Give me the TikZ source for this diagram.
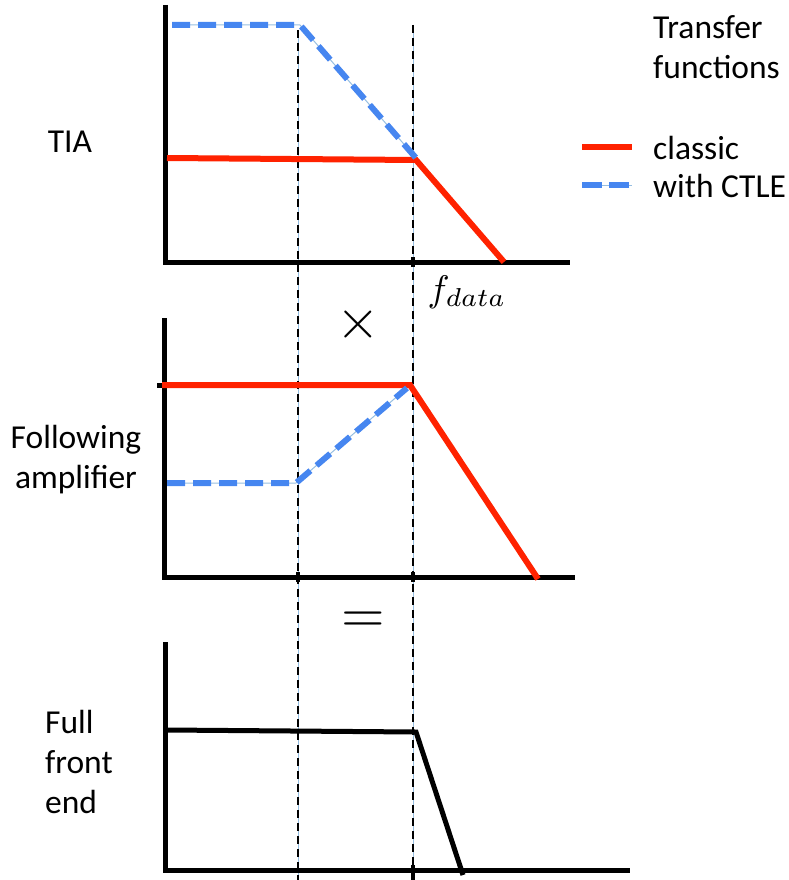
\documentclass[tikz,border=0pt]{standalone}
\usepackage{graphicx}
\usepackage[no-math]{fontspec}
\setmainfont{Carlito}
\definecolor{cred}{RGB}{255,34,0}
\definecolor{cblue}{RGB}{70,134,240}
\definecolor{clblue}{RGB}{150,190,225}
\begin{document}
\begin{tikzpicture}[x=1pt,y=-1pt,
  axis/.style={line width=5pt, line join=miter},
  redline/.style={cred, line width=6pt, line join=miter},
  blackline/.style={black, line width=5pt, line join=miter},
  bluebase/.style={clblue, line width=1pt},
  bluedash/.style={cblue, line width=6pt, dash pattern=on 18pt off 8pt},
  guidebase/.style={clblue, line width=1pt},
  guidedash/.style={black, line width=1.8pt, dash pattern=on 8pt off 5pt},
  tick/.style={black, line width=4pt},
  lab/.style={font=\fontsize{33.5}{40}\selectfont, inner sep=0pt},
  bigmath/.style={inner sep=0pt}
]
\useasboundingbox (0,0) rectangle (789,880);

% guide lines
\draw[guidebase] (298,30) -- (298,880);
\draw[guidedash] (298,30) -- (298,880);
\draw[guidebase] (413,25) -- (413,880);
\draw[guidedash] (413,25) -- (413,880);

% ---- top plot (TIA)
\draw[axis] (165,5) -- (165,262) -- (570,262);
\draw[tick] (413,257) -- (413,267);
\draw[redline] (167,158) -- (416,160) -- (504,262);
\draw[bluebase] (172,25) -- (300,25) -- (416,158);
\draw[bluedash] (172,25) -- (300,25) -- (416,158);

% ---- middle plot (Following amplifier)
\draw[axis] (164,318) -- (164,577) -- (575,577);
\draw[axis] (157,385) -- (165,385);
\draw[tick] (298,572) -- (298,582);
\draw[tick] (413,572) -- (413,582);
\draw[redline] (162,385) -- (410,385) -- (538,579);
\draw[bluebase] (167,483) -- (296,483) -- (407,388);
\draw[bluedash] (167,483) -- (296,483) -- (407,388);

% ---- bottom plot (Full front end)
\draw[axis] (165,642) -- (165,870) -- (630,870);
\draw[tick] (413,865) -- (413,880);
\draw[blackline] (167,730) -- (416,732) -- (463,875);

% operators
\node[bigmath] (times) at (358,324) {\scalebox{5.6}{$\times$}};
\node[bigmath] (eq) at (363,622) {\scalebox{5.6}{$=$}};
\node[bigmath] (fd) at (467,292) {\scalebox{3.7}{$f_{data}$}};

% labels
\node[lab] (tia) at (70,142) {TIA};
\node[lab, align=center] (follow) at (76,460) {Following\\amplifier};
\node[lab, align=left, anchor=west] (full) at (45,762) {Full\\front\\end};

% legend
\node[lab, align=left, anchor=west] (title) at (653,47) {Transfer\\functions};
\node[lab, anchor=west] (classic) at (653,148) {classic};
\node[lab, anchor=west] (ctle) at (653,186) {with CTLE};
\coordinate (r1) at (582,147);
\coordinate (r2) at (632,147);
\coordinate (b1) at (582,185);
\coordinate (b2) at (632,185);
\draw[redline] (r1) -- (r2);
\draw[bluebase] (b1) -- (b2);
\draw[cblue, line width=6pt, dash pattern=on 20pt off 7pt] (b1) -- (b2);
\end{tikzpicture}
\end{document}
